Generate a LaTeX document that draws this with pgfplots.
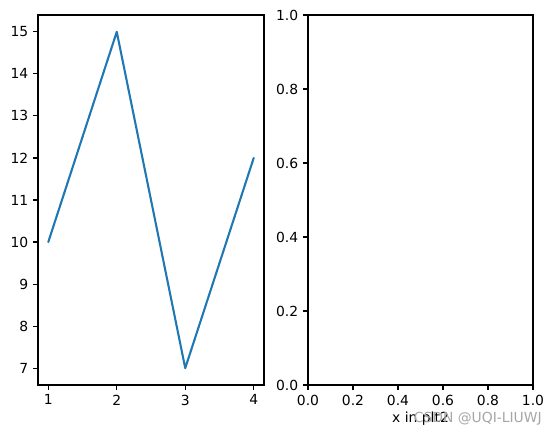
\documentclass[border=0pt]{standalone}
\usepackage{pgfplots}
\pgfplotsset{compat=1.18}
\usepackage{fontspec}
\setmainfont{DejaVu Sans}
\definecolor{mplblue}{HTML}{1F77B4}
\begin{document}
\fontsize{10}{12}\selectfont
\begin{tikzpicture}
\useasboundingbox (0,0) rectangle (398.88pt,315.36pt);
\pgfplotsset{
  every axis/.style={
    scale only axis,
    anchor=south west,
    axis line style={line width=0.8pt},
    tick align=outside,
    major tick length=3.5pt,
    tick style={line width=0.8pt, black},
    xtick pos=bottom, ytick pos=left,
    /pgf/number format/assume math mode=true,
    tick label style={font=\fontsize{10}{12}\selectfont},
    label style={font=\fontsize{10}{12}\selectfont},
  }
}
\begin{axis}[
  at={(27.36pt,38.16pt)},
  width=162.72pt, height=266.4pt,
  xmin=0.85, xmax=4.15, ymin=6.6, ymax=15.4,
  xtick={1,2,3,4}, ytick={7,8,9,10,11,12,13,14,15},
]
\addplot[mplblue, line width=1.5pt, line join=round, line cap=round, no marks] coordinates {(1,10) (2,15) (3,7) (4,12)};
\end{axis}
\begin{axis}[
  at={(221.76pt,38.16pt)},
  width=162pt, height=266.4pt,
  xmin=0, xmax=1, ymin=0, ymax=1,
  xtick={0,0.2,0.4,0.6,0.8,1}, ytick={0,0.2,0.4,0.6,0.8,1},
  xticklabel style={/pgf/number format/.cd, fixed, fixed zerofill, precision=1},
  yticklabel style={/pgf/number format/.cd, fixed, fixed zerofill, precision=1},
  xlabel={x in plt2},
  xlabel style={yshift=2pt},
]
\end{axis}
\node[text=black!35, font=\fontsize{10}{12}\selectfont] at (344pt,13.7pt) {CSDN @UQI-LIUWJ};
\end{tikzpicture}
\end{document}
